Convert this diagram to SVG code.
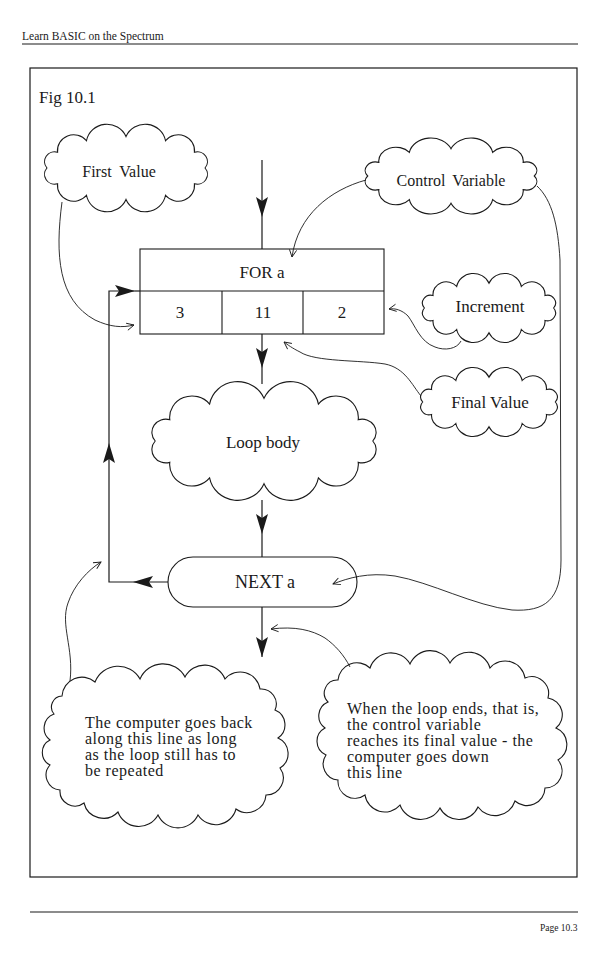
<svg xmlns="http://www.w3.org/2000/svg" xmlns:xlink="http://www.w3.org/1999/xlink" width="600" height="953" viewBox="0 0 600 953">
<style>
text{font-family:"Liberation Serif","Times New Roman",serif;fill:#1a1a1a}
.c{fill:#fff;stroke:#1a1a1a;stroke-width:1.1;vector-effect:non-scaling-stroke}
.ln{fill:none;stroke:#1a1a1a;stroke-width:1.2}
.th{fill:none;stroke:#1a1a1a;stroke-width:0.9}
.box{fill:#fff;stroke:#1a1a1a;stroke-width:1.1}
.lb{font-size:17px;text-anchor:middle}
.nt{font-size:16px;letter-spacing:0.5px}
.rule{stroke:#1a1a1a;stroke-width:1.2}
</style>
<defs>
<path id="cloud" class="c" d="M-85,0 A10.9,10.9 0 0 1 -73.6,-17.5 A17.5,17.5 0 0 1 -42.5,-30.3 A22.3,22.3 0 0 1 0,-35 A22.3,22.3 0 0 1 42.5,-30.3 A17.5,17.5 0 0 1 73.6,-17.5 A10.9,10.9 0 0 1 85,0 A10.9,10.9 0 0 1 73.6,17.5 A17.5,17.5 0 0 1 42.5,30.3 A22.3,22.3 0 0 1 0,35 A22.3,22.3 0 0 1 -42.5,30.3 A17.5,17.5 0 0 1 -73.6,17.5 A10.9,10.9 0 0 1 -85,0 Z"/>
<marker id="fa" viewBox="0 0 20 12" markerWidth="20" markerHeight="12" refX="20" refY="6" orient="auto" markerUnits="userSpaceOnUse">
<path d="M0,0 L20,6 L0,12 L4,6 Z" fill="#1a1a1a"/>
</marker>
<marker id="oa" viewBox="0 0 10 10" markerWidth="9" markerHeight="9" refX="9" refY="5" orient="auto" markerUnits="userSpaceOnUse">
<path d="M1,1 L9,5 L1,9" fill="none" stroke="#1a1a1a" stroke-width="1"/>
</marker>
</defs>
<rect width="600" height="953" fill="#fff"/>
<g id="page">
<text x="22" y="40" style="font-size:11.5px">Learn BASIC on the Spectrum</text>
<line class="rule" x1="22" y1="44" x2="578" y2="44"/>
<rect x="30" y="68" width="547" height="809" fill="none" stroke="#1a1a1a" stroke-width="1.2"/>
<text x="39" y="103" style="font-size:17px">Fig 10.1</text>
<line class="rule" x1="30" y1="912" x2="578" y2="912"/>
<text x="540" y="931" style="font-size:9.5px">Page 10.3</text>
</g>
<g id="first-value">
<use xlink:href="#cloud" href="#cloud" transform="translate(126,168) scale(0.93,0.9)"/>
<text class="lb" x="119" y="177" style="font-size:16px;word-spacing:4px">First Value</text>
</g>
<g id="control-variable">
<use xlink:href="#cloud" href="#cloud" transform="translate(451,176) scale(0.98,0.78)"/>
<text class="lb" x="451" y="186" style="font-size:16px;word-spacing:3px">Control Variable</text>
</g>
<g id="for-box">
<rect class="box" x="140" y="249" width="244" height="85"/>
<line class="box" x1="140" y1="291" x2="384" y2="291"/>
<line class="box" x1="222" y1="291" x2="222" y2="334"/>
<line class="box" x1="303" y1="291" x2="303" y2="334"/>
<text class="lb" x="262" y="278">FOR a</text>
<text class="lb" x="180" y="318">3</text>
<text class="lb" x="263" y="318">11</text>
<text class="lb" x="342" y="318">2</text>
</g>
<g id="increment">
<use xlink:href="#cloud" href="#cloud" transform="translate(489,308) scale(0.76,0.71)"/>
<text class="lb" x="490" y="312">Increment</text>
</g>
<g id="final-value">
<use xlink:href="#cloud" href="#cloud" transform="translate(489,402) scale(0.78,0.71)"/>
<text class="lb" x="490" y="408">Final Value</text>
</g>
<g id="loop-body">
<use xlink:href="#cloud" href="#cloud" transform="translate(264,441) scale(1.28,1.22)"/>
<text class="lb" x="263" y="448">Loop body</text>
</g>
<g id="next-a">
<rect class="box" x="168" y="557" width="189" height="50" rx="25" ry="25"/>
<text class="lb" x="265" y="588" style="font-size:18px">NEXT a</text>
</g>
<g id="note-back">
<path class="c" d="M62,696 A20,20 0 0 1 95,682 A25,25 0 0 1 140,679 A25,25 0 0 1 185,677 A22,22 0 0 1 225,679 A20,20 0 0 1 260,689 A15,15 0 0 1 275,710 A16,16 0 0 1 278,738 A17,17 0 0 1 280,768 A17,17 0 0 1 266,795 A19,19 0 0 1 236,809 A21,21 0 0 1 198,815 A22,22 0 0 1 158,815 A22,22 0 0 1 118,812 A20,20 0 0 1 84,803 A15,15 0 0 1 60,790 A15,15 0 0 1 50,765 A14,14 0 0 1 50,740 A15,15 0 0 1 54,714 A11,11 0 0 1 62,696 Z"/>
<text class="nt" x="85" y="728">The computer goes back</text>
<text class="nt" x="85" y="744">along this line as long</text>
<text class="nt" x="85" y="760">as the loop still has to</text>
<text class="nt" x="85" y="776">be repeated</text>
</g>
<g id="note-down">
<path class="c" d="M338,680 A19,19 0 0 1 370,668 A22,22 0 0 1 410,664 A22,22 0 0 1 450,663 A22,22 0 0 1 490,668 A20,20 0 0 1 525,678 A17,17 0 0 1 548,698 A17,17 0 0 1 556,728 A18,18 0 0 1 558,760 A17,17 0 0 1 545,788 A18,18 0 0 1 515,801 A21,21 0 0 1 478,807 A21,21 0 0 1 440,808 A22,22 0 0 1 400,805 A20,20 0 0 1 365,795 A17,17 0 0 1 338,780 A16,16 0 0 1 326,755 A15,15 0 0 1 325,728 A15,15 0 0 1 328,702 A13,13 0 0 1 338,680 Z"/>
<text class="nt" x="347" y="714">When the loop ends, that is,</text>
<text class="nt" x="347" y="730">the control variable</text>
<text class="nt" x="347" y="746">reaches its final value - the</text>
<text class="nt" x="347" y="762">computer goes down</text>
<text class="nt" x="347" y="778">this line</text>
</g>
<g id="connectors">
<path class="ln" d="M262,160 L262,217" marker-end="url(#fa)"/>
<path class="ln" d="M262,217 L262,249"/>
<path class="ln" d="M262,334 L262,368" marker-end="url(#fa)"/>
<path class="ln" d="M262,368 L262,384"/>
<path class="ln" d="M262,500 L262,534" marker-end="url(#fa)"/>
<path class="ln" d="M262,534 L262,557"/>
<path class="ln" d="M262,607 L262,657" marker-end="url(#fa)"/>
<path class="ln" d="M168,582 L133,582" marker-end="url(#fa)"/>
<path class="ln" d="M133,582 L109,582 L109,443" marker-end="url(#fa)"/>
<path class="ln" d="M109,443 L109,291 L135,291" marker-end="url(#fa)"/>
<path class="ln" d="M135,291 L140,291"/>
<path class="th" d="M62,202 C55,255 58,300 95,320 C110,327 122,328 134,325" marker-end="url(#oa)"/>
<path class="th" d="M366,180 C330,190 298,215 292,257" marker-end="url(#oa)"/>
<path class="th" d="M537,186 C552,200 558,225 560,260 L561,560 C561,600 545,612 512,610 C475,606 430,582 395,576 C368,572 348,578 333,584" marker-end="url(#oa)"/>
<path class="th" d="M461,341 C457,349 445,351 435,347 C420,342 415,325 408,316 C402,310 395,308 389,309" marker-end="url(#oa)"/>
<path class="th" d="M421,396 C412,385 405,368 385,364 C360,360 315,362 300,352 C292,348 288,345 284,342" marker-end="url(#oa)"/>
<path class="th" d="M70,681 C74,648 60,625 68,603 C74,585 88,570 101,562" marker-end="url(#oa)"/>
<path class="th" d="M350,667 C344,655 335,645 325,638 C312,630 295,626 271,629" marker-end="url(#oa)"/>
</g>
</svg>
